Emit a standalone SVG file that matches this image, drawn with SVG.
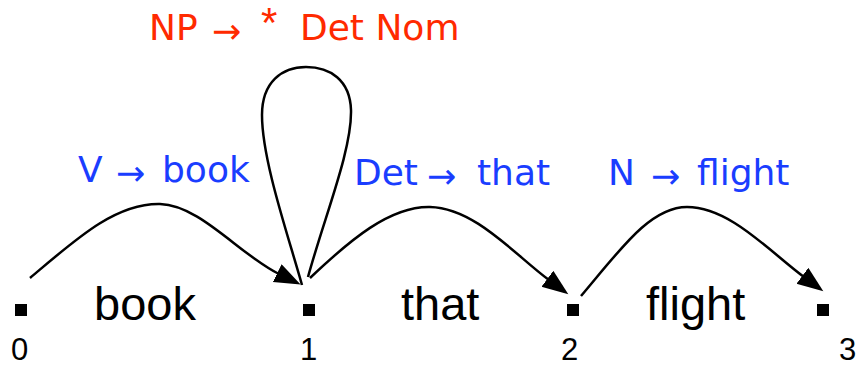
<svg xmlns="http://www.w3.org/2000/svg" width="860" height="366" viewBox="0 0 860 366">
<style>
.num{font-family:"Liberation Sans",Arial,sans-serif;font-size:31px;fill:#000}
.word{font-family:"Liberation Sans",Arial,sans-serif;font-size:47px;fill:#000}
.lab{font-family:"DejaVu Sans",Verdana,sans-serif;font-size:36px}
.blue{fill:#1a3dff}
.red{fill:#ff2a00}
.arr{font-size:35px}
.ast{font-family:"Liberation Sans",Arial,sans-serif;font-size:42px}
.edge{fill:none;stroke:#000;stroke-width:2.5}
</style>
<defs>
<marker id="ah" markerUnits="userSpaceOnUse" markerWidth="30" markerHeight="22" refX="2" refY="10" orient="auto">
<path d="M0,0 L26,10 L0,20 z" fill="#000"/>
</marker>
</defs>
<rect width="860" height="366" fill="#fff"/>
<g id="node0"><rect x="15" y="304" width="12" height="12"/><text class="num" x="11" y="360">0</text></g>
<g id="node1"><rect x="303" y="304" width="12" height="12"/><text class="num" x="300" y="360">1</text></g>
<g id="node2"><rect x="567" y="304" width="12" height="12"/><text class="num" x="561" y="360">2</text></g>
<g id="node3"><rect x="817" y="304" width="12" height="12"/><text class="num" x="839" y="360">3</text></g>
<g id="words">
<text class="word" x="94" y="320">book</text>
<text class="word" x="401" y="320">that</text>
<text class="word" x="646" y="320">flight</text>
</g>
<g id="connectors">
<path class="edge" d="M30,278 C75,240 115,203 160,204 C200,205 240,255 279,274" marker-end="url(#ah)"/>
<path class="edge" d="M308,277 C325,215 352,150 351,110 C350,80 330,67 306,67 C282,67 262,82 262,115 C262,160 288,235 302,285"/>
<path class="edge" d="M310,278 C350,240 390,206 430,207 C475,208 515,255 549,280" marker-end="url(#ah)"/>
<path class="edge" d="M581,296 C620,250 650,207 687,207 C730,207 770,252 804,277" marker-end="url(#ah)"/>
</g>
<g id="labels">
<text class="lab red"><tspan x="149" y="40">NP</tspan><tspan class="arr" x="212" y="43">→</tspan><tspan class="ast" x="261" y="37">*</tspan><tspan x="300" y="40">Det Nom</tspan></text>
<text class="lab blue"><tspan x="78" y="182">V</tspan><tspan class="arr" x="116" y="185">→</tspan><tspan x="162" y="182">book</tspan></text>
<text class="lab blue"><tspan x="354" y="185">Det</tspan><tspan class="arr" x="427" y="188">→</tspan><tspan x="477" y="185">that</tspan></text>
<text class="lab blue"><tspan x="608" y="185">N</tspan><tspan class="arr" x="651" y="188">→</tspan><tspan x="697" y="185">flight</tspan></text>
</g>
</svg>
